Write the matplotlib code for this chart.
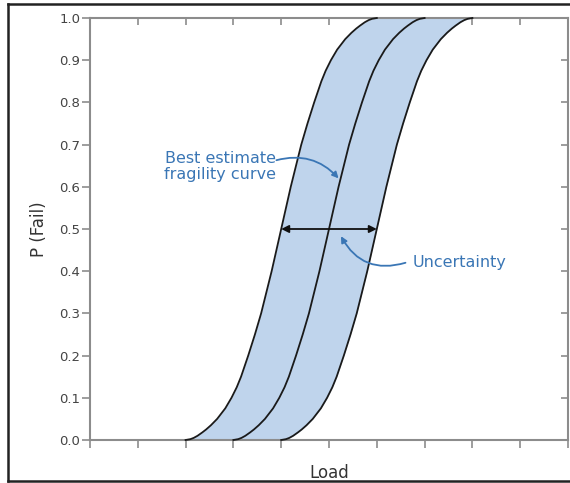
import numpy as np
import matplotlib
matplotlib.use("Agg")
import matplotlib.pyplot as plt
from matplotlib.lines import Line2D

# fragility curve (load vs probability of failure)
prob = [0.0, 0.002, 0.005, 0.01, 0.018, 0.025, 0.035, 0.05, 0.075, 0.1,
        0.125, 0.15, 0.2, 0.25, 0.3, 0.35, 0.4, 0.45, 0.5, 0.55, 0.6, 0.65,
        0.7, 0.75, 0.8, 0.85, 0.875, 0.9, 0.925, 0.95, 0.965, 0.975, 0.982,
        0.99, 0.995, 0.998, 1.0]
best_load = [3.0, 3.1, 3.17, 3.25, 3.35, 3.43, 3.53, 3.66, 3.83, 3.96,
             4.07, 4.16, 4.31, 4.45, 4.58, 4.69, 4.8, 4.9, 5.0, 5.1, 5.2, 5.31,
             5.42, 5.55, 5.69, 5.84, 5.93, 6.04, 6.17, 6.34, 6.47, 6.57, 6.65,
             6.75, 6.83, 6.9, 7.0]
uncertainty = 1.0

x_ticks = list(range(0, 11))
y_ticks = [0.0, 0.1, 0.2, 0.3, 0.4, 0.5, 0.6, 0.7, 0.8, 0.9, 1.0]
y_labels = ['%.1f' % v for v in y_ticks]

blue_txt = '#3a76b5'
fill_col = '#bfd4ec'
spine_col = '#8c8c8c'

plt.rcParams['font.family'] = ['DejaVu Sans']

p = np.array(prob)
best = np.array(best_load)
low = best - uncertainty
high = best + uncertainty
i_med = prob.index(0.5)

fig = plt.figure(figsize=(5.7, 4.83), dpi=100)
ax = fig.add_axes([90/570, 43/483, 478/570, 422/483])

ax.fill_betweenx(p, low, high, color=fill_col, lw=0, zorder=1)
for xs in (low, best, high):
    ax.plot(xs, p, color='#1a1a1a', lw=1.3, zorder=3, clip_on=False,
            solid_joinstyle='round')

ax.set_xlim(0, 10)
ax.set_ylim(0, 1)
ax.set_xticks(x_ticks)
ax.set_xticklabels([])
ax.set_yticks(y_ticks)
ax.set_yticklabels(y_labels, fontsize=9.5, color='#444444')
ax.tick_params(axis='both', direction='out', length=6, width=1.2,
               color=spine_col, pad=1)
for s in ax.spines.values():
    s.set_color(spine_col)
    s.set_linewidth(1.5)

# top / right ticks point inward
sec_x = ax.secondary_xaxis('top')
sec_x.set_xticks(x_ticks)
sec_x.set_xticklabels([])
sec_x.tick_params(direction='in', length=5, width=1.2, color=spine_col)
sec_x.spines['top'].set_visible(False)
sec_y = ax.secondary_yaxis('right')
sec_y.set_yticks(y_ticks)
sec_y.set_yticklabels([])
sec_y.tick_params(direction='in', length=5, width=1.2, color=spine_col)
sec_y.spines['right'].set_visible(False)

ax.set_xlabel('Load', fontsize=12, color='#333333', labelpad=10)
ax.set_ylabel('P (Fail)', fontsize=12, color='#333333', labelpad=8)

# uncertainty double arrow at the median
ax.annotate('', xy=(high[i_med], 0.5), xytext=(low[i_med], 0.5),
            arrowprops=dict(arrowstyle='<|-|>', color='#111111', lw=1.3,
                            mutation_scale=11, shrinkA=0, shrinkB=0), zorder=4)

ax.text(2.72, 0.648, 'Best estimate\nfragility curve', color=blue_txt,
        fontsize=11.5, ha='center', va='center', linespacing=1.05)
ax.annotate('', xy=(5.2, 0.62), xytext=(3.9, 0.663),
            arrowprops=dict(arrowstyle='-|>', color=blue_txt, lw=1.3,
                            mutation_scale=9, shrinkA=0, shrinkB=0,
                            connectionstyle='arc3,rad=-0.3'))

ax.text(6.75, 0.42, 'Uncertainty', color=blue_txt, fontsize=11.5,
        ha='left', va='center')
ax.annotate('', xy=(5.25, 0.483), xytext=(6.6, 0.42),
            arrowprops=dict(arrowstyle='-|>', color=blue_txt, lw=1.3,
                            mutation_scale=9, shrinkA=0, shrinkB=0,
                            connectionstyle='arc3,rad=-0.4'))

# outer frame
fx0, fy0, fy1 = 8/570, 2/483, 479/483
fig.add_artist(Line2D([fx0, 1.0], [fy1, fy1], color='#222222', lw=1.8))
fig.add_artist(Line2D([fx0, 1.0], [fy0, fy0], color='#222222', lw=1.8))
fig.add_artist(Line2D([fx0, fx0], [fy0, fy1], color='#222222', lw=1.8))

fig.savefig('out.png', dpi=100)
